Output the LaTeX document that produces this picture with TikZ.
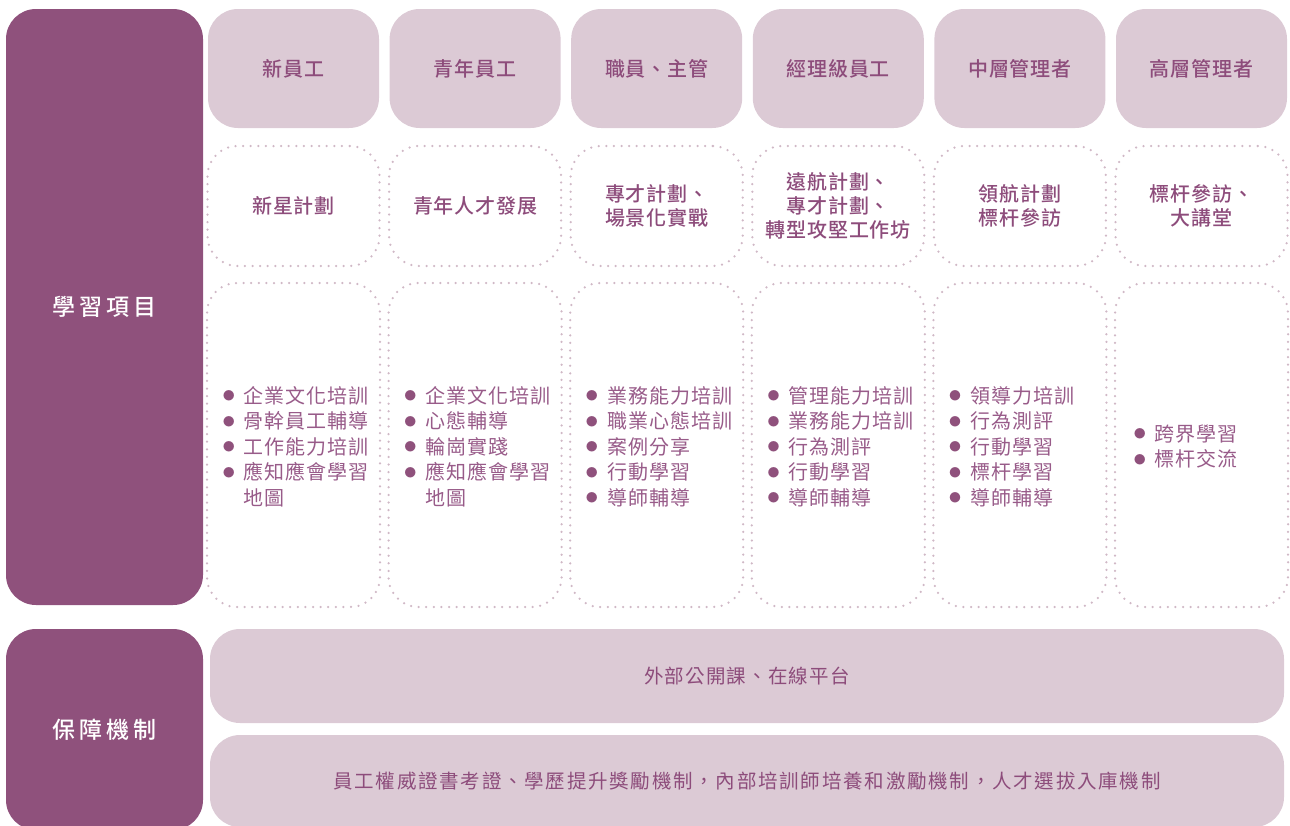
\documentclass[tikz,border=0pt]{standalone}
\usepackage{fontspec}
\setmainfont{Noto Sans CJK TC}
\newfontfamily\medf{Noto Sans CJK TC Medium}
\definecolor{dark}{HTML}{8F517C}
\definecolor{light}{HTML}{DCCAD5}
\definecolor{dotc}{HTML}{D0B8C6}
\definecolor{txt}{HTML}{8D4C7B}
\definecolor{ltxt}{HTML}{985B89}
\newcommand\bl{\textcolor{dark}{\raisebox{0.02em}{\scalebox{1.3}{$\bullet$}}}}
\tikzset{
  sidebox/.style={fill=dark, rounded corners=30pt, minimum width=197pt, text=white,
    font=\medf\fontsize{23}{28}\selectfont\addfontfeature{LetterSpace=17}},
  headbox/.style={fill=light, rounded corners=30pt, minimum width=171pt, minimum height=119pt,
    text=txt, font=\medf\fontsize{20}{24}\selectfont\addfontfeature{LetterSpace=4}},
  progbox/.style={draw=dotc, line width=2.5pt, dash pattern=on 0pt off 7.6pt, line cap=round,
    rounded corners=30pt, minimum width=172pt, minimum height=120pt, text=txt, align=center,
    font=\medf\fontsize{20}{24}\selectfont\addfontfeature{LetterSpace=4}},
  listbox/.style={draw=dotc, line width=2.5pt, dash pattern=on 0pt off 7.6pt, line cap=round,
    rounded corners=30pt, minimum width=173pt, minimum height=324pt, text=ltxt, text width=143pt,
    align=left, inner xsep=0pt, font=\fontsize{20}{25.5}\selectfont\addfontfeature{LetterSpace=5}},
  barbox/.style={fill=light, rounded corners=30pt, minimum width=1074pt, text=txt}
}
\newcommand\lst[1]{\raisebox{0pt}[\dimexpr\height+8pt\relax][\depth]{\begin{tabular}{@{}c@{\hspace{8.5pt}}l@{}}#1\end{tabular}}}
\begin{document}
\begin{tikzpicture}[x=1pt,y=-1pt]
\useasboundingbox (0,0) rectangle (1290,825);
% side boxes
\node[sidebox, minimum height=596pt] (learn) at (104.5,307) {學習項目};
\node[sidebox, minimum height=201pt] (guard) at (104.5,729.5) {保障機制};
% headers
\node[headbox] (h1) at (293.5,68.5) {新員工};
\node[headbox] (h2) at (475.1,68.5) {青年員工};
\node[headbox] (h3) at (656.7,68.5) {職員、主管};
\node[headbox] (h4) at (838.3,68.5) {經理級員工};
\node[headbox] (h5) at (1019.9,68.5) {中層管理者};
\node[headbox] (h6) at (1201.5,68.5) {高層管理者};
% programmes
\node[progbox] (p1) at (293.5,206) {新星計劃};
\node[progbox] (p2) at (475.1,206) {青年人才發展};
\node[progbox] (p3) at (656.7,206) {專才計劃、\\場景化實戰};
\node[progbox] (p4) at (838.3,206) {遠航計劃、\\專才計劃、\\轉型攻堅工作坊};
\node[progbox] (p5) at (1019.9,206) {領航計劃\\標杆參訪};
\node[progbox] (p6) at (1201.5,206) {標杆參訪、\\大講堂};
% lists
\node[listbox] (l1) at (293.5,445) {\lst{\bl & 企業文化培訓\\ \bl & 骨幹員工輔導\\ \bl & 工作能力培訓\\ \bl & 應知應會學習\\ & 地圖}};
\node[listbox] (l2) at (475.1,445) {\lst{\bl & 企業文化培訓\\ \bl & 心態輔導\\ \bl & 輪崗實踐\\ \bl & 應知應會學習\\ & 地圖}};
\node[listbox] (l3) at (656.7,445) {\lst{\bl & 業務能力培訓\\ \bl & 職業心態培訓\\ \bl & 案例分享\\ \bl & 行動學習\\ \bl & 導師輔導}};
\node[listbox] (l4) at (838.3,445) {\lst{\bl & 管理能力培訓\\ \bl & 業務能力培訓\\ \bl & 行為測評\\ \bl & 行動學習\\ \bl & 導師輔導}};
\node[listbox] (l5) at (1019.9,445) {\lst{\bl & 領導力培訓\\ \bl & 行為測評\\ \bl & 行動學習\\ \bl & 標杆學習\\ \bl & 導師輔導}};
\node[listbox] (l6) at (1201.5,445) {\hspace{3pt}\lst{\bl & 跨界學習\\ \bl & 標杆交流}};
% bars
\node[barbox, minimum height=94pt, font=\fontsize{19.5}{24}\selectfont\addfontfeature{LetterSpace=6}] (b1) at (747,676) {外部公開課、在線平台};
\node[barbox, minimum height=92pt, font=\fontsize{19.5}{24}\selectfont\addfontfeature{LetterSpace=9}] (b2) at (747,781) {員工權威證書考證、學歷提升獎勵機制，內部培訓師培養和激勵機制，人才選拔入庫機制};
\end{tikzpicture}
\end{document}
